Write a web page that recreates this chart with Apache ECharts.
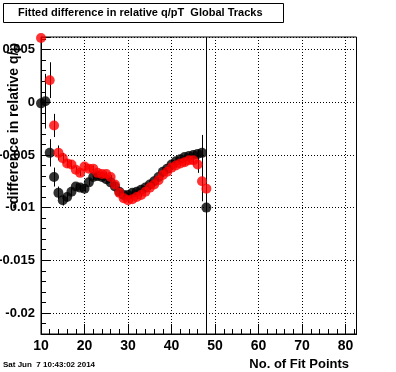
<!DOCTYPE html>
<html><head><meta charset="utf-8">
<script src="https://cdn.jsdelivr.net/npm/echarts@6/dist/echarts.min.js"></script>
<style>html,body{margin:0;padding:0;background:#fff}#c{width:396px;height:372px}</style>
</head><body><div id="c"></div>
<script>
// ---- data ----
const fitPoints = [10,11,12,13,14,15,16,17,18,19,20,21,22,23,24,25,26,27,28,29,30,31,32,33,34,35,36,37,38,39,40,41,42,43,44,45,46,47,48];
const blackValues = [-0.0001,0.0001,-0.0048,-0.0071,-0.0086,-0.0093,-0.0090,-0.0085,-0.0080,-0.0081,-0.0082,-0.0076,-0.0071,-0.0070,-0.0071,-0.0073,-0.0076,-0.0080,-0.0085,-0.0088,-0.0088,-0.0086,-0.0085,-0.0083,-0.0081,-0.0078,-0.0075,-0.0071,-0.0066,-0.0063,-0.0059,-0.0056,-0.0054,-0.0052,-0.0051,-0.0050,-0.0049,-0.0048,-0.0100];
const blackErrors = [0.0004,0.0026,0.0013,0.0009,0.0006,0.0005,0.0004,0.0004,0.0003,0.0003,0.0003,0.0003,0.0003,0.0002,0.0002,0.0002,0.0002,0.0002,0.0002,0.0002,0.0002,0.0002,0.0002,0.0002,0.0002,0.0002,0.0002,0.0002,0.0002,0.0002,0.0002,0.0002,0.0002,0.0002,0.0003,0.0003,0.0004,0.0017,0.05];
const redValues = [0.0061,null,0.0021,-0.0022,-0.0048,-0.0053,-0.0058,-0.0059,-0.0064,-0.0067,-0.0061,-0.0063,-0.0063,-0.0067,-0.0068,-0.0068,-0.0071,-0.0078,-0.0086,-0.0091,-0.0093,-0.0092,-0.0090,-0.0088,-0.0085,-0.0081,-0.0078,-0.0074,-0.0069,-0.0066,-0.0062,-0.0060,-0.0058,-0.0057,-0.0055,-0.0055,-0.0059,-0.0075,-0.0082];
const redErrors = [0.0003,null,0.0017,0.0011,0.0007,0.0005,0.0004,0.0004,0.0003,0.0003,0.0003,0.0003,0.0003,0.0002,0.0002,0.0002,0.0002,0.0002,0.0002,0.0002,0.0002,0.0002,0.0002,0.0002,0.0002,0.0002,0.0002,0.0002,0.0002,0.0002,0.0002,0.0002,0.0002,0.0003,0.0003,0.0004,0.0008,0.0019,0.0010];
const xTickLabels = [10,20,30,40,50,60,70,80];
const yTickLabels = [-0.02,-0.015,-0.01,-0.005,0,0.005];
const titleText = 'Fitted difference in relative q/pT  Global Tracks';
const xTitle = 'No. of Fit Points';
const yTitle = '-difference in relative q/p';
const dateText = 'Sat Jun  7 10:43:02 2014';

const X_MIN = 10, X_MAX = 82.5, Y_MIN = -0.022, Y_MAX = 0.0062;
const FONT = '"Liberation Sans", Arial, Helvetica, sans-serif';

function pts(vals, errs){
  const out = [];
  fitPoints.forEach((x,i)=>{ if (vals[i] !== null) out.push([x, vals[i], errs[i]]); });
  return out;
}
function near(list, v, eps){ return list.some(t => Math.abs(t - v) < eps); }

function errRender(params, api){
  const x = api.value(0), v = api.value(1), e = api.value(2);
  const a = api.coord([x, v - e]), b = api.coord([x, v + e]);
  const xx = Math.round(a[0]) + 0.5;
  return {type:'line', shape:{x1:xx, y1:a[1], x2:xx, y2:b[1]}, style:{stroke:'#000', lineWidth:1}};
}

const chart = echarts.init(document.getElementById('c'), null, {renderer:'canvas'});
const dotted = {color:'#000', width:1, type:[1,2]};
chart.setOption({
  animation:false,
  backgroundColor:'#fff',
  grid:{left:41, right:39.5, top:37, bottom:38, containLabel:false, outerBoundsMode:'none', show:true, borderColor:'#000', borderWidth:1, backgroundColor:'transparent'},
  xAxis:[
    {type:'value', min:X_MIN, max:X_MAX, interval:10, position:'bottom',
     axisLine:{show:true, onZero:false, lineStyle:{color:'#000', width:1}},
     axisTick:{show:true, inside:true, length:10, lineStyle:{color:'#000'}},
     axisLabel:{show:true, margin:5, color:'#000', fontFamily:FONT, fontWeight:'bold', fontSize:14,
       formatter:v => near(xTickLabels, v, 1e-6) ? String(v) : ''},
     splitLine:{show:true, lineStyle:dotted}},
    {type:'value', min:X_MIN, max:X_MAX, interval:2, position:'bottom',
     axisLine:{show:false, onZero:false},
     axisTick:{show:true, inside:true, length:5, lineStyle:{color:'#000'}},
     axisLabel:{show:false}, splitLine:{show:false}}
  ],
  yAxis:[
    {type:'value', min:Y_MIN, max:Y_MAX, splitNumber:5, position:'left',
     axisLine:{show:true, onZero:false, lineStyle:{color:'#000', width:1}},
     axisTick:{show:true, inside:true, length:9, lineStyle:{color:'#000'}},
     axisLabel:{show:true, margin:6, color:'#000', fontFamily:FONT, fontWeight:'bold', fontSize:13,
       formatter:v => near(yTickLabels, v, 1e-7) ? String(parseFloat(v.toFixed(3))) : ''},
     splitLine:{show:true, lineStyle:dotted}},
    {type:'value', min:Y_MIN, max:Y_MAX, interval:0.001, position:'left',
     axisLine:{show:false, onZero:false},
     axisTick:{show:true, inside:true, length:5, lineStyle:{color:'#000'}},
     axisLabel:{show:false}, splitLine:{show:false}}
  ],
  graphic:[
    {type:'rect', shape:{x:3.5, y:3.5, width:280, height:19}, style:{fill:'#fff', stroke:'#000', lineWidth:1}, z:100},
    {type:'text', x:18, y:13, style:{text:titleText, font:'bold 11px ' + FONT, fill:'#000', textAlign:'left', textVerticalAlign:'middle', verticalAlign:'middle'}, z:101},
    {type:'text', x:14, y:43, rotation:Math.PI/2, style:{text:yTitle, font:'bold 14px ' + FONT, fill:'#000', textAlign:'right', textVerticalAlign:'middle', verticalAlign:'middle'}, z:101},
    {type:'text', x:349, y:364, style:{text:xTitle, font:'bold 13px ' + FONT, fill:'#000', textAlign:'right', textVerticalAlign:'middle', verticalAlign:'middle'}, z:101},
    {type:'text', x:3, y:365, style:{text:dateText, font:'bold 8px ' + FONT, fill:'#000', textAlign:'left', textVerticalAlign:'middle', verticalAlign:'middle'}, z:101}
  ],
  series:[
    {type:'custom', name:'blackErr', xAxisIndex:0, yAxisIndex:0, clip:true, renderItem:errRender, data:pts(blackValues, blackErrors), z:2},
    {type:'scatter', name:'black', xAxisIndex:0, yAxisIndex:0, clip:false, symbol:'circle', symbolSize:10, itemStyle:{color:'#000'}, data:pts(blackValues, blackErrors).map(p=>[p[0],p[1]]), z:2},
    {type:'custom', name:'redErr', xAxisIndex:0, yAxisIndex:0, clip:true, renderItem:errRender, data:pts(redValues, redErrors), z:3},
    {type:'scatter', name:'red', xAxisIndex:0, yAxisIndex:0, clip:false, symbol:'circle', symbolSize:10, itemStyle:{color:'#ff0000'}, data:pts(redValues, redErrors).map(p=>[p[0],p[1]]), z:3}
  ]
});
</script></body></html>
